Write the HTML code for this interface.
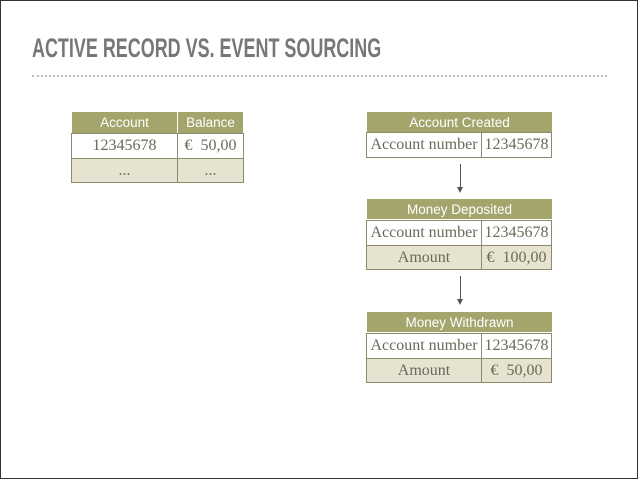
<!DOCTYPE html>
<html><head><style>
body{margin:0;width:638px;height:479px;background:#fff;position:relative;overflow:hidden;font-family:"Liberation Serif",serif}
.frame{position:absolute;left:0;top:0;width:636px;height:477px;border:1px solid #333}
.t{position:absolute;left:32px;top:33px;font-family:"Liberation Sans",sans-serif;font-weight:bold;font-size:27px;color:#777;transform:scaleX(0.665);transform-origin:left;white-space:nowrap}
.dots{position:absolute;left:32px;top:75px;width:575px;border-top:2px dotted #bbb}
.c{position:absolute;box-sizing:border-box;border:1px solid #8c8c6c;display:flex;align-items:center;justify-content:center;color:#6a6a5a;font-size:16px;white-space:nowrap}
.h{background:#a3a56d;color:#fff;font-family:"Liberation Sans",sans-serif;font-size:13.5px;border-color:#fff}
.l{background:#e6e4d0}
.w{background:#fff}
.arr{position:absolute;width:1px;background:#555}
.ah{position:absolute;width:0;height:0;border-left:3px solid transparent;border-right:3px solid transparent;border-top:6px solid #555}
</style></head><body>
<div class="frame"></div>
<div class="t">ACTIVE RECORD VS. EVENT SOURCING</div>
<div class="dots"></div>

<div class="c h" style="left:71px;top:111px;width:107px;height:23px">Account</div>
<div class="c h" style="left:177px;top:111px;width:67px;height:23px">Balance</div>
<div class="c w" style="left:71px;top:133px;width:107px;height:26px">12345678</div>
<div class="c w" style="left:177px;top:133px;width:67px;height:26px">€&nbsp; 50,00</div>
<div class="c l" style="left:71px;top:158px;width:107px;height:25px">...</div>
<div class="c l" style="left:177px;top:158px;width:67px;height:25px">...</div>

<div class="c h" style="left:366px;top:111px;width:187px;height:22px">Account Created</div>
<div class="c w" style="left:366px;top:132px;width:116px;height:26px">Account number</div>
<div class="c w" style="left:481px;top:132px;width:71px;height:26px">12345678</div>
<div class="arr" style="left:460px;top:164px;height:24px"></div>
<div class="ah" style="left:457px;top:187px"></div>

<div class="c h" style="left:366px;top:198px;width:187px;height:22px">Money Deposited</div>
<div class="c w" style="left:366px;top:220px;width:116px;height:26px">Account number</div>
<div class="c w" style="left:481px;top:220px;width:71px;height:26px">12345678</div>
<div class="c l" style="left:366px;top:245px;width:116px;height:25px">Amount</div>
<div class="c l" style="left:481px;top:245px;width:71px;height:25px">€&nbsp; 100,00</div>
<div class="arr" style="left:460px;top:276px;height:24px"></div>
<div class="ah" style="left:457px;top:299px"></div>

<div class="c h" style="left:366px;top:311px;width:187px;height:22px">Money Withdrawn</div>
<div class="c w" style="left:366px;top:333px;width:116px;height:26px">Account number</div>
<div class="c w" style="left:481px;top:333px;width:71px;height:26px">12345678</div>
<div class="c l" style="left:366px;top:358px;width:116px;height:25px">Amount</div>
<div class="c l" style="left:481px;top:358px;width:71px;height:25px">€&nbsp; 50,00</div>
</body></html>
